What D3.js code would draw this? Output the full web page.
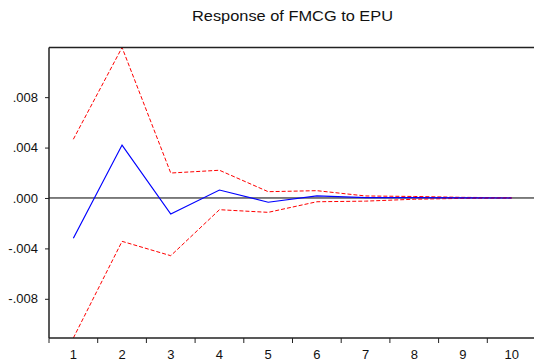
<!DOCTYPE html>
<html>
<head>
<meta charset="utf-8">
<script src="https://cdn.jsdelivr.net/npm/d3@7"></script>
<style>
  body { margin: 0; background: #fff; }
  svg { display: block; }
  text { font-family: Arial, "Liberation Sans", sans-serif; }
</style>
</head>
<body>
<div id="chart"></div>
<script>
// periods and impulse response values
let periods = [1, 2, 3, 4, 5, 6, 7, 8, 9, 10];
let response = [-0.0032, 0.0042, -0.00127, 0.00063, -0.00034, 0.00016, 0.00003, 0.00003, 0.00001, 0.0];
let upperBand = [0.00466, 0.01194, 0.00198, 0.0022, 0.0005, 0.00058, 0.00016, 0.00012, 0.00005, 0.00002];
let lowerBand = [-0.01111, -0.00344, -0.00458, -0.00093, -0.00114, -0.0003, -0.00025, -0.0001, -0.00003, -0.00001];
let yTicks = [-0.008, -0.004, 0.0, 0.004, 0.008];
let title = "Response of FMCG to EPU";

let width = 534, height = 363;
let margin = {top: 47.5, right: -2, bottom: 25, left: 49};

let svg = d3.select("#chart")
    .append("svg")
    .attr("width", width)
    .attr("height", height);

let x = d3.scaleBand()
    .domain(periods)
    .range([margin.left, width - margin.right]);

let y = d3.scaleLinear()
    .domain([-0.01111, 0.01194])
    .range([height - margin.bottom, margin.top]);

// title
svg.append("text")
    .attr("x", 292.5)
    .attr("y", 21)
    .attr("text-anchor", "middle")
    .attr("font-size", 15)
    .attr("textLength", 201)
    .attr("lengthAdjust", "spacingAndGlyphs")
    .attr("fill", "#111")
    .text(title);

// zero line
svg.append("line")
    .attr("x1", margin.left)
    .attr("x2", width)
    .attr("y1", y(0))
    .attr("y2", y(0))
    .attr("stroke", "#000")
    .attr("stroke-width", 1);

// lines
let line = function(vals) {
    return d3.line()
        .x(function(d, i) { return x(periods[i]) + x.bandwidth() / 2; })
        .y(function(d) { return y(d); })(vals);
};

svg.append("path")
    .attr("d", line(upperBand))
    .attr("fill", "none")
    .attr("stroke", "#ff0000")
    .attr("stroke-width", 1)
    .attr("stroke-dasharray", "4,2");

svg.append("path")
    .attr("d", line(lowerBand))
    .attr("fill", "none")
    .attr("stroke", "#ff0000")
    .attr("stroke-width", 1)
    .attr("stroke-dasharray", "4,2");

svg.append("path")
    .attr("d", line(response))
    .attr("fill", "none")
    .attr("stroke", "#0000ff")
    .attr("stroke-width", 1.2);

// frame: top, left, bottom
let frame = svg.append("g").attr("stroke", "#222").attr("stroke-width", 1.5);
frame.append("line")
    .attr("x1", margin.left).attr("x2", width)
    .attr("y1", margin.top).attr("y2", margin.top);
frame.append("line")
    .attr("x1", margin.left).attr("x2", margin.left)
    .attr("y1", margin.top).attr("y2", height - margin.bottom);
frame.append("line")
    .attr("x1", margin.left).attr("x2", width)
    .attr("y1", height - margin.bottom).attr("y2", height - margin.bottom);

// y axis
let yAxis = svg.append("g")
    .attr("transform", "translate(" + margin.left + ",0)")
    .call(d3.axisLeft(y)
        .tickValues(yTicks)
        .tickSize(4)
        .tickPadding(7)
        .tickFormat(function(d) {
            let s = d3.format(".3f")(Math.abs(d)).replace(/^0/, "");
            return d < 0 ? "-" + s : s;
        }));
yAxis.select(".domain").remove();
yAxis.selectAll("line").attr("stroke", "#222");
yAxis.selectAll("text")
    .attr("font-size", 13)
    .attr("fill", "#111")
    .attr("font-family", "Arial, 'Liberation Sans', sans-serif");

// x axis: ticks at band edges, labels at centres
let xAxis = svg.append("g")
    .attr("transform", "translate(0," + (height - margin.bottom) + ")");
xAxis.selectAll("line.tick")
    .data(periods)
    .enter()
    .append("line")
    .attr("class", "tick")
    .attr("x1", function(d) { return x(d); })
    .attr("x2", function(d) { return x(d); })
    .attr("y1", 0)
    .attr("y2", 5)
    .attr("stroke", "#222");
xAxis.selectAll("text")
    .data(periods)
    .enter()
    .append("text")
    .attr("x", function(d) { return x(d) + x.bandwidth() / 2; })
    .attr("y", 21)
    .attr("text-anchor", "middle")
    .attr("font-size", 13)
    .attr("fill", "#111")
    .text(function(d) { return d; });
</script>
</body>
</html>
